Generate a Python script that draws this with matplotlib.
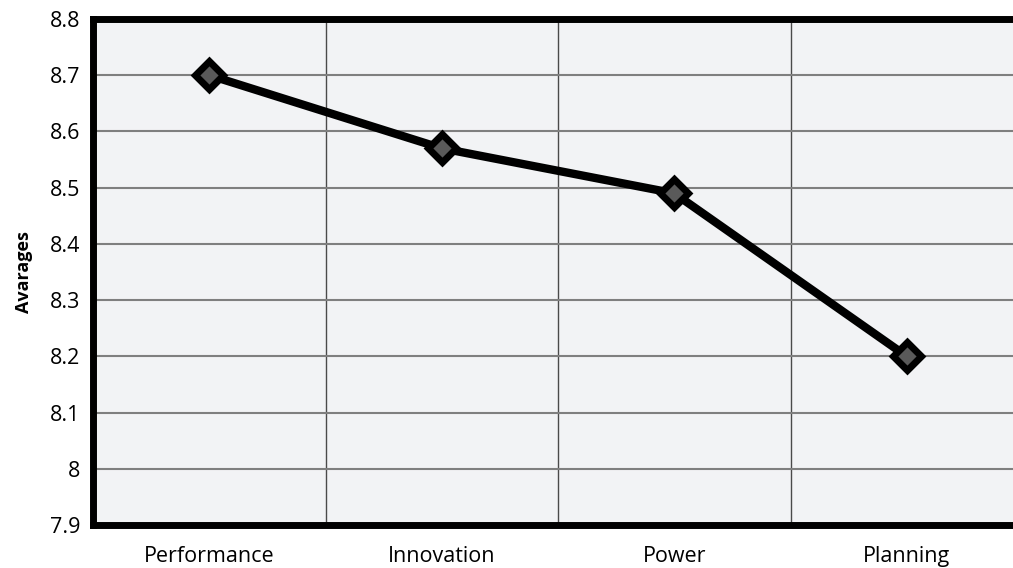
import matplotlib.pyplot as plt
import numpy as np

categories = ["Performance", "Innovation", "Power", "Planning"]
averages = [8.70, 8.57, 8.49, 8.20]
y_ticks = [7.9, 8.0, 8.1, 8.2, 8.3, 8.4, 8.5, 8.6, 8.7, 8.8]
y_tick_labels = ["7.9", "8", "8.1", "8.2", "8.3", "8.4", "8.5", "8.6", "8.7", "8.8"]

plt.rcParams["font.family"] = ["Open Sans", "DejaVu Sans"]

fig = plt.figure(figsize=(10.13, 5.68), dpi=100)
# plot area runs past the right edge of the canvas
ax = fig.add_axes([93 / 1013, 43 / 568, 930 / 1013, 506 / 568])
ax.set_facecolor("#f2f3f5")

x = np.arange(len(categories))
ax.plot(x, averages, color="black", linewidth=6, solid_capstyle="round",
        marker="D", markersize=14, markerfacecolor="#5a5a5a",
        markeredgecolor="black", markeredgewidth=5, zorder=3)

ax.set_xlim(-0.5, len(categories) - 0.5)
ax.set_ylim(7.9, 8.8)
ax.set_yticks(y_ticks)
ax.set_yticklabels(y_tick_labels)
ax.set_xticks(x)
ax.set_xticklabels(categories)
ax.set_xticks(np.arange(0.5, len(categories) - 0.5), minor=True)

ax.grid(axis="y", which="major", color="#7f7f7f", linewidth=1.5, zorder=1)
ax.grid(axis="x", which="minor", color="#4a4a4a", linewidth=1.0, zorder=1)
ax.tick_params(axis="both", which="both", length=0, labelsize=15.5)
ax.tick_params(axis="y", pad=9)
ax.tick_params(axis="x", pad=15)

for side in ax.spines.values():
    side.set_linewidth(5)
    side.set_color("black")

ax.set_ylabel("Avarages", fontsize=13, fontweight="bold", labelpad=12)

fig.savefig("out.png", dpi=100)
